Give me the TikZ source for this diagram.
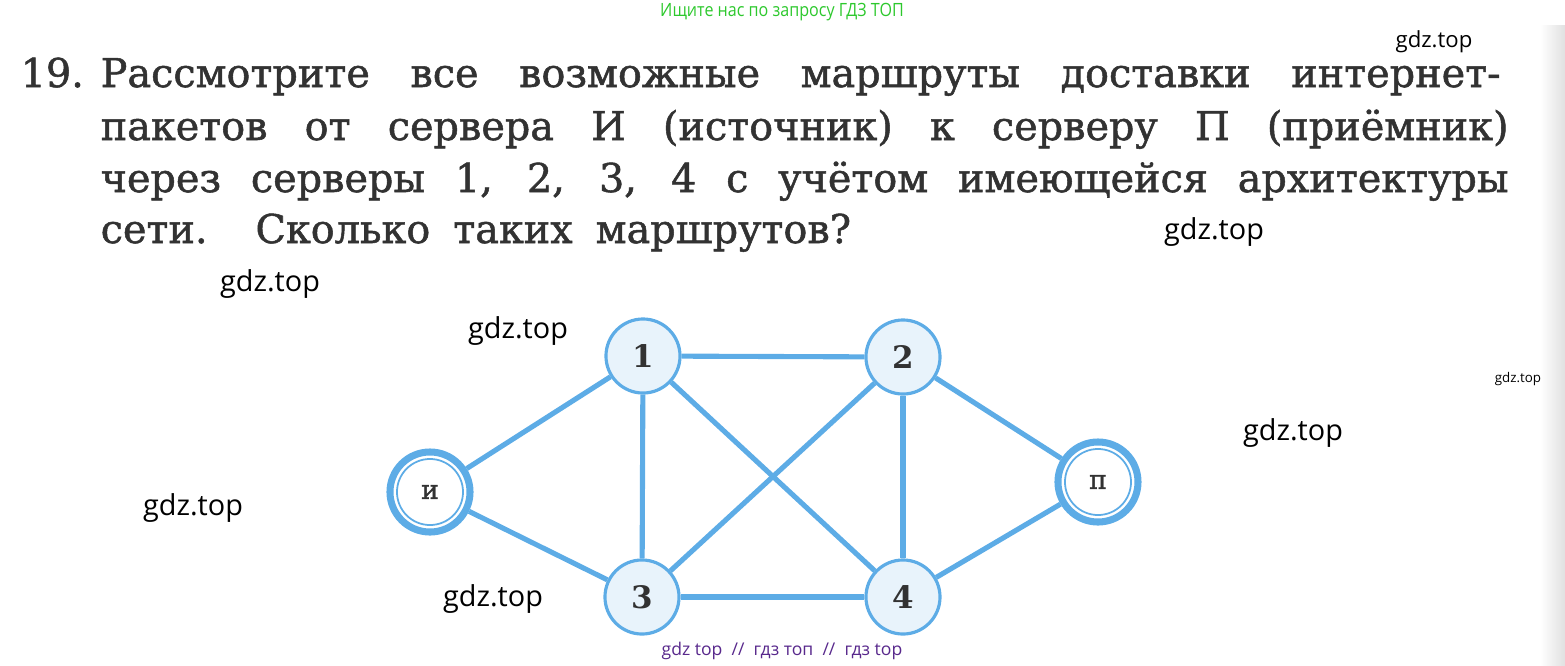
\documentclass[tikz,border=0pt]{standalone}
\usepackage{fontspec}
\setmainfont{DejaVu Serif}
\newfontfamily\taskfont[FakeBold=1.3]{DejaVu Serif}
\newfontfamily\wmfont{Open Sans}
\usetikzlibrary{positioning}

\definecolor{netblue}{RGB}{93,172,230}
\definecolor{nodefill}{RGB}{232,243,251}
\definecolor{ink}{RGB}{50,50,50}
\definecolor{wmgreen}{RGB}{45,200,45}
\definecolor{wmpurple}{RGB}{88,40,140}

\tikzset{
  link/.style={netblue,line width=1.45pt},
  server/.style={circle,draw=netblue,line width=0.9pt,fill=nodefill,minimum size=0.74cm,
                 inner sep=0pt,text=ink,font=\fontsize{8.8}{10}\selectfont\bfseries},
  endpoint/.style={circle,draw=netblue,line width=2pt,fill=white,minimum size=0.80cm,
                   inner sep=0pt,text=ink,font=\taskfont\fontsize{7.5}{8}\selectfont},
  wm/.style={inner sep=0pt,text=black,font=\wmfont\fontsize{8.2}{10}\selectfont},
  task/.style={anchor=base west,inner sep=0pt,text=ink,font=\taskfont\fontsize{11.3}{13}\selectfont}
}

\begin{document}
\begin{tikzpicture}[x=0.01cm,y=-0.01cm]
      \useasboundingbox (0,0) rectangle (1565,666);
      \shade[left color=white,right color=black!12] (1540,25) rectangle (1565,666);

      % task text
      \node[task] (num) at (20,87) {19.};
      \node[task] (line1) at (100,87) {\makebox[13.99cm][s]{Рассмотрите все возможные маршруты доставки интернет-}};
      \node[task] (line2) at (100,140) {\makebox[14.07cm][s]{пакетов от сервера И (источник) к серверу П (приёмник)}};
      \node[task] (line3) at (100,192) {\makebox[14.07cm][s]{через серверы 1, 2, 3, 4 с учётом имеющейся архитектуры}};
      \node[task] (line4) at (100,243) {\makebox[7.5cm][s]{сети. Сколько таких маршрутов?}};

      % network
      \node[endpoint] (src) at (430,492) {и};
      \node[endpoint] (dst) at (1098,482) {п};
      \draw[netblue,line width=0.5pt] (src.center) circle[radius=0.33cm];
      \draw[netblue,line width=0.5pt] (dst.center) circle[radius=0.33cm];
      \foreach \i/\x/\y in {1/643/356, 2/903/357, 3/642/597, 4/903/597} {
        \node[server] (srv\i) at (\x,\y) {\i};
      }
      \foreach \a/\b in {src/srv1, src/srv3, srv1/srv2, srv1/srv3, srv1/srv4,
                         srv2/srv3, srv2/srv4, srv3/srv4, srv2/dst, srv4/dst} {
        \draw[link] (\a) -- (\b);
      }

      % watermarks
      \node[inner sep=0pt,text=wmgreen,xscale=0.88,font=\wmfont\fontsize{5.2}{6}\selectfont] (wmtop) at (782,12) {Ищите нас по запросу ГДЗ ТОП};
      \node[inner sep=0pt,text=wmpurple,font=\wmfont\fontsize{5}{6}\selectfont] (wmbottom) at (782,651) {gdz top \ // \ гдз топ \ // \ гдз top};
      \node[wm,font=\wmfont\fontsize{6.3}{8}\selectfont] (wm1) at (1434,42) {gdz.top};
      \node[wm] (wm2) at (1214,232) {gdz.top};
      \node[wm] (wm3) at (270,284) {gdz.top};
      \node[wm] (wm4) at (518,331) {gdz.top};
      \node[wm,font=\wmfont\fontsize{3.8}{5}\selectfont] (wm5) at (1518,379) {gdz.top};
      \node[wm] (wm6) at (1293,433) {gdz.top};
      \node[wm] (wm7) at (193,508) {gdz.top};
      \node[wm] (wm8) at (493,599) {gdz.top};
    \end{tikzpicture}
\end{document}
